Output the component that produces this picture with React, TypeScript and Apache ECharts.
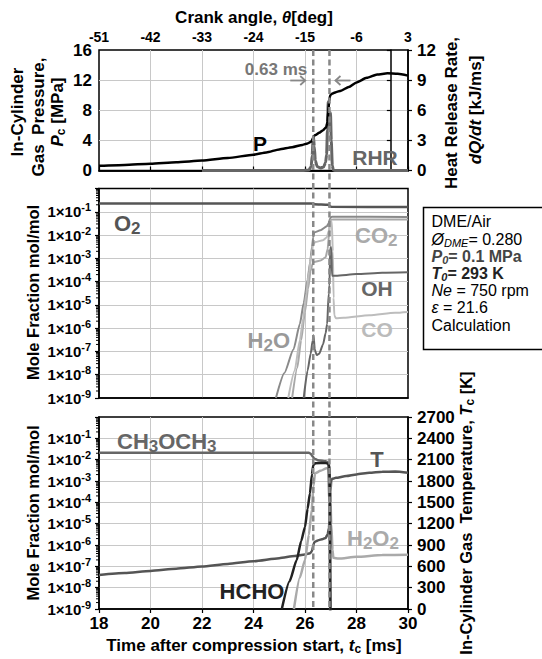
import React, { useEffect, useRef } from "react";
import * as echarts from "echarts";

const FONT = "'Liberation Sans', Arial, Helvetica, sans-serif";

// Axes
const timeRange = [18, 30, 2]; // ms after compression start: min, max, step
const crankRange = [-51, 3, 9]; // crank angle, deg
const pressureRange = [0, 16, 4]; // MPa
const rhrRange = [0, 12, 3]; // kJ/ms
const tempRange = [0, 2700, 300]; // K
const moleRange = [1e-9, 1]; // mol/mol (log)
const minorMultipliers = [2, 3, 4, 5, 6, 7, 8, 9];

// Ignition instants (ms) and the interval between them
const ignitionTimes = [26.32, 26.95];
const ignitionDelayLabel = "0.63 ms";

// In-cylinder pressure, MPa
const pressure: [number, number][] = [
  [18, 0.62], [19, 0.74], [20, 0.9], [21, 1.1], [22, 1.32], [23, 1.65], [24, 2.1],
  [24.5, 2.4], [25, 2.8], [25.5, 3.1], [25.9, 3.4], [26.1, 3.6], [26.25, 3.85],
  [26.3, 4.2], [26.34, 4.55], [26.4, 4.7], [26.55, 5.0], [26.7, 5.35], [26.82, 5.75],
  [26.87, 6.4], [26.9, 7.8], [26.94, 9.2], [26.98, 10.0], [27.05, 10.2], [27.2, 10.4],
  [27.4, 10.6], [27.7, 11.1], [28.0, 11.7], [28.4, 12.3], [28.8, 12.75], [29.2, 12.9],
  [29.6, 12.85], [30, 12.6],
];

// Rate of heat release, kJ/ms
const heatRelease: [number, number][] = [
  [22, 0], [25.9, 0], [26.15, 0.05], [26.24, 0.4], [26.28, 1.5], [26.31, 3.0], [26.33, 3.35],
  [26.36, 2.4], [26.4, 1.0], [26.47, 0.4], [26.6, 0.25], [26.72, 0.35], [26.8, 0.8],
  [26.84, 1.6], [26.87, 4.0], [26.9, 6.85], [26.93, 4.5], [26.96, 4.2], [26.99, 5.75],
  [27.02, 3.0], [27.06, 0.5], [27.1, 0.05], [27.15, 0], [30, 0],
];

// Mole fractions, mol/mol
const o2: [number, number][] = [
  [18, 0.225], [26.25, 0.225], [26.35, 0.21], [26.9, 0.2], [26.97, 0.175], [27.02, 0.163], [30, 0.16],
];
const h2o: [number, number][] = [
  [24.87, 1e-9], [25.2, 1.2e-8], [25.55, 1.2e-7], [25.8, 1.5e-6], [25.95, 1.2e-5], [26.1, 1.2e-4],
  [26.2, 7e-4], [26.27, 3e-3], [26.32, 8e-3], [26.36, 1.3e-2], [26.6, 1.6e-2], [26.85, 2.4e-2],
  [26.92, 3.2e-2], [26.97, 5e-2], [27.02, 6e-2], [27.1, 6.1e-2], [30, 6e-2],
];
const co2: [number, number][] = [
  [25.5, 1e-9], [25.7, 2e-8], [25.85, 3e-7], [26.0, 5e-6], [26.12, 5e-5], [26.22, 3e-4],
  [26.3, 6e-4], [26.36, 7e-4], [26.6, 8e-4], [26.8, 1.1e-3], [26.88, 2.5e-3], [26.93, 1e-2],
  [26.97, 3e-2], [27.0, 4.5e-2], [27.1, 4.7e-2], [30, 4.7e-2],
];
const co: [number, number][] = [
  [25.35, 1e-9], [25.6, 1.5e-8], [25.8, 3e-7], [25.93, 2.6e-6], [26.05, 3e-5], [26.15, 2.5e-4],
  [26.25, 1.5e-3], [26.32, 4e-3], [26.4, 5e-3], [26.7, 6e-3], [26.85, 8e-3], [26.92, 1.5e-2],
  [26.97, 3.2e-2], [27.04, 3.8e-2], [27.08, 2e-3], [27.11, 2e-5], [27.14, 3.5e-6],
  [27.2, 2.7e-6], [27.5, 2.8e-6], [28.5, 3.6e-6], [29.5, 4.6e-6], [30, 5e-6],
];
const oh: [number, number][] = [
  [25.95, 1e-9], [26.1, 1.5e-8], [26.22, 8e-8], [26.3, 3e-7], [26.33, 5e-7], [26.38, 1.2e-7],
  [26.45, 7e-8], [26.55, 8e-8], [26.7, 2e-7], [26.8, 6e-7], [26.86, 1.5e-6], [26.92, 3e-5],
  [26.95, 7e-5], [26.98, 3e-3], [27.02, 3e-3], [27.05, 1.8e-4], [27.2, 1.8e-4], [28, 2.1e-4],
  [29, 2.4e-4], [30, 2.5e-4],
];
const dme: [number, number][] = [
  [18, 2.1e-2], [26.15, 2.1e-2], [26.22, 1.9e-2], [26.3, 1.4e-2], [26.36, 1.1e-2], [26.5, 9.5e-3],
  [26.8, 8.5e-3], [26.9, 7.5e-3], [26.95, 1e-4], [26.97, 1e-9], [26.98, 1e-11],
];
const hcho: [number, number][] = [
  [25.1, 1e-9], [25.4, 2e-8], [25.68, 2e-7], [25.85, 1.5e-6], [26.0, 7e-6], [26.1, 5e-5],
  [26.19, 2.6e-4], [26.27, 2e-3], [26.32, 5.5e-3], [26.4, 6.8e-3], [26.8, 7e-3], [26.9, 6.5e-3],
  [26.95, 5e-3], [26.97, 1e-4], [26.99, 1e-9], [27.0, 1e-11],
];
const h2o2: [number, number][] = [
  [25.57, 1e-9], [25.8, 3e-8], [26.0, 2e-7], [26.15, 3e-6], [26.26, 4.4e-5], [26.33, 6e-4],
  [26.39, 2.3e-3], [26.6, 3e-3], [26.84, 4e-3], [26.92, 4e-3], [26.97, 1e-3], [27.02, 1e-5],
  [27.07, 6e-7], [27.1, 2.5e-7], [27.3, 2.3e-7], [28, 2.8e-7], [29, 3.4e-7], [30, 3.5e-7],
];

// In-cylinder gas temperature, K
const temperature: [number, number][] = [
  [18, 478], [19, 505], [20, 536], [21, 566], [22, 598], [23, 633], [24, 672], [25, 715],
  [25.6, 745], [26.0, 768], [26.2, 785], [26.27, 815], [26.32, 890], [26.36, 940], [26.5, 965],
  [26.7, 985], [26.8, 1000], [26.88, 1050], [26.93, 1140], [26.96, 1300], [26.99, 1650],
  [27.02, 1810], [27.06, 1830], [27.2, 1845], [27.6, 1870], [28, 1893], [28.5, 1915],
  [29, 1930], [29.5, 1932], [30, 1915],
];

// Conditions box
const conditionLines = [
  "DME/Air",
  "{i|Ø}{s|DME}{r|= 0.280}",
  "{bi|P}{bs|0}{b|= 0.1 MPa}",
  "{bi|T}{bs|0}{b|= 293 K}",
  "{i|Ne}{r| = 750 rpm}",
  "{i|ε}{r| = 21.6}",
  "Calculation",
];

const GRID_LINE = { color: "#c8c8c8", width: 1 };
const SPLIT = { show: true, showMinLine: false, showMaxLine: false, lineStyle: GRID_LINE };
const AXIS_LINE = { show: true, lineStyle: { color: "#000", width: 1.5 } };
const TICK = { show: true, length: 4, lineStyle: { color: "#000", width: 1.2 } };
const LABEL = { fontFamily: FONT, fontWeight: "bold" as const, color: "#000" };

const logLabel = {
  ...LABEL,
  margin: 8,
  formatter: (v: number) => {
    const e = Math.round(Math.log10(v));
    return e === 0 ? "" : `{m|1×10}{e|${e}}`;
  },
  rich: {
    m: { fontFamily: FONT, fontWeight: "bold", fontSize: 15, color: "#000" },
    e: { fontFamily: FONT, fontWeight: "bold", fontSize: 11, color: "#000", padding: [0, 0, 9, 0] },
  },
};

function lineSeries(name: string, data: [number, number][], xi: number, yi: number, color: string, width: number, z = 2) {
  return {
    name,
    type: "line",
    xAxisIndex: xi,
    yAxisIndex: yi,
    data,
    showSymbol: false,
    symbol: "none",
    smooth: 0.2,
    smoothMonotone: "x",
    clip: true,
    z,
    lineStyle: { color, width },
    itemStyle: { color },
  };
}

function buildOption() {
  const gridBase = { left: 99, right: 134, show: true, borderColor: "#000", borderWidth: 1.5, backgroundColor: "transparent" };
  const timeAxis = (gridIndex: number, showLabels: boolean) => ({
    gridIndex,
    type: "value",
    min: timeRange[0],
    max: timeRange[1],
    interval: timeRange[2],
    axisLine: AXIS_LINE,
    axisTick: showLabels ? TICK : { show: false },
    axisLabel: showLabels ? { ...LABEL, fontSize: 17, margin: 6 } : { show: false },
    splitLine: SPLIT,
  });
  const logAxis = (gridIndex: number) => ({
    gridIndex,
    type: "log",
    logBase: 10,
    min: moleRange[0],
    max: moleRange[1],
    splitNumber: 9,
    axisLine: AXIS_LINE,
    axisTick: TICK,
    axisLabel: logLabel,
    splitLine: SPLIT,
  });
  return {
    animation: false,
    backgroundColor: "#fff",
    grid: [
      { ...gridBase, top: 50, height: 120.5 },
      { ...gridBase, top: 188.5, height: 209.5 },
      { ...gridBase, top: 417, height: 192 },
    ],
    xAxis: [
      timeAxis(0, false),
      {
        gridIndex: 0,
        type: "value",
        position: "top",
        min: crankRange[0],
        max: crankRange[1],
        interval: crankRange[2],
        axisLine: AXIS_LINE,
        axisTick: TICK,
        axisLabel: { ...LABEL, fontSize: 14, margin: 6 },
        splitLine: { show: false },
      },
      timeAxis(1, false),
      timeAxis(2, true),
    ],
    yAxis: [
      {
        gridIndex: 0,
        type: "value",
        min: pressureRange[0],
        max: pressureRange[1],
        interval: pressureRange[2],
        axisLine: AXIS_LINE,
        axisTick: TICK,
        axisLabel: { ...LABEL, fontSize: 17, margin: 7 },
        splitLine: SPLIT,
      },
      {
        gridIndex: 0,
        type: "value",
        position: "right",
        min: rhrRange[0],
        max: rhrRange[1],
        interval: rhrRange[2],
        axisLine: AXIS_LINE,
        axisTick: TICK,
        axisLabel: { ...LABEL, fontSize: 17, margin: 9 },
        splitLine: { show: false },
      },
      logAxis(1),
      logAxis(2),
      {
        gridIndex: 2,
        type: "value",
        position: "right",
        min: tempRange[0],
        max: tempRange[1],
        interval: tempRange[2],
        axisLine: AXIS_LINE,
        axisTick: TICK,
        axisLabel: { ...LABEL, fontSize: 17, margin: 9, formatter: (v: number) => String(v) },
        splitLine: { show: false },
      },
    ],
    series: [
      lineSeries("RHR", heatRelease, 0, 1, "#666", 3, 2),
      lineSeries("P", pressure, 0, 0, "#000", 2.5, 3),
      lineSeries("O2", o2, 2, 2, "#555", 2.5),
      lineSeries("H2O", h2o, 2, 2, "#8a8a8a", 2),
      lineSeries("CO2", co2, 2, 2, "#a8a8a8", 2),
      lineSeries("CO", co, 2, 2, "#bdbdbd", 2),
      lineSeries("OH", oh, 2, 2, "#666", 2),
      lineSeries("T", temperature, 3, 4, "#555", 2.5),
      lineSeries("H2O2", h2o2, 3, 3, "#aaa", 2.5),
      lineSeries("CH3OCH3", dme, 3, 3, "#666", 2.5),
      lineSeries("HCHO", hcho, 3, 3, "#222", 2.5, 3),
    ],
  };
}

type Rich = Record<string, any>;

function text(x: number, y: number, str: string, o: { size?: number; weight?: string; fill?: string; align?: string; vAlign?: string; rotation?: number; rich?: Rich; style?: string } = {}) {
  const align = o.align || "center";
  const vAlign = o.vAlign || "middle";
  return {
    type: "text",
    x,
    y,
    z: 30,
    rotation: o.rotation || 0,
    style: {
      text: str,
      fontFamily: FONT,
      fontSize: o.size || 17,
      fontWeight: o.weight || "bold",
      fontStyle: o.style || "normal",
      fill: o.fill || "#000",
      align,
      verticalAlign: vAlign,
      textAlign: align,
      textVerticalAlign: vAlign,
      rich: o.rich,
    },
  };
}

const titleRich = (size: number): Rich => ({
  b: { fontFamily: FONT, fontWeight: "bold", fontSize: size },
  i: { fontFamily: FONT, fontWeight: "bold", fontStyle: "italic", fontSize: size },
  s: { fontFamily: FONT, fontWeight: "bold", fontSize: Math.round(size * 0.7), padding: [8, 0, 0, 0] },
});

const speciesRich = (size: number): Rich => ({
  n: { fontFamily: FONT, fontWeight: "bold", fontSize: size },
  s: { fontFamily: FONT, fontWeight: "bold", fontSize: Math.round(size * 0.78), padding: [10, 0, 0, 0] },
});

// Subscripts keep the row height equal to the main text so rows do not crowd
const boxRich: Rich = {
  r: { fontFamily: FONT, fontSize: 16, lineHeight: 15 },
  i: { fontFamily: FONT, fontSize: 16, fontStyle: "italic", lineHeight: 15 },
  s: { fontFamily: FONT, fontSize: 11, fontStyle: "italic", lineHeight: 8, padding: [7, 0, 0, 0] },
  b: { fontFamily: FONT, fontSize: 16, fontWeight: "bold", lineHeight: 15 },
  bi: { fontFamily: FONT, fontSize: 16, fontWeight: "bold", fontStyle: "italic", lineHeight: 15 },
  bs: { fontFamily: FONT, fontSize: 11, fontWeight: "bold", fontStyle: "italic", lineHeight: 8, padding: [7, 0, 0, 0] },
};

function buildGraphics(xa: number, xb: number, minorY: number[]) {
  const up = Math.PI / 2;
  const g: any[] = [];

  // log-spaced minor ticks on the mole-fraction axes
  minorY.forEach((y) => {
    g.push({ type: "line", z: 5, shape: { x1: 96, y1: y, x2: 99, y2: y }, style: { stroke: "#000", lineWidth: 1 } });
  });

  const dash = { stroke: "#888", lineWidth: 2.5, lineDash: [6, 3.5] };
  g.push({ type: "line", z: 25, shape: { x1: xa, y1: 50, x2: xa, y2: 609 }, style: dash });
  g.push({ type: "line", z: 25, shape: { x1: xb, y1: 50, x2: xb, y2: 609 }, style: dash });

  // interval arrows
  const ay = 80.5;
  const arrow = { stroke: "#888", lineWidth: 1.8, fill: "none" };
  g.push({ type: "line", z: 26, shape: { x1: xa - 23, y1: ay, x2: xa - 8, y2: ay }, style: arrow });
  g.push({ type: "polyline", z: 26, shape: { points: [[xa - 13, ay - 4.5], [xa - 8, ay], [xa - 13, ay + 4.5]] }, style: arrow });
  g.push({ type: "line", z: 26, shape: { x1: xb + 21, y1: ay, x2: xb + 6, y2: ay }, style: arrow });
  g.push({ type: "polyline", z: 26, shape: { points: [[xb + 11, ay - 4.5], [xb + 6, ay], [xb + 11, ay + 4.5]] }, style: arrow });
  g.push(text(xa - 6, 69.5, ignitionDelayLabel, { size: 17, fill: "#777", align: "right" }));

  // axis titles
  g.push(text(254, 17, "{b|Crank angle, }{i|θ}{b|[deg]}", { rich: titleRich(17) }));
  g.push(text(254, 645, "{b|Time after compression start, }{i|t}{s|c}{b| [ms]}", { rich: titleRich(17) }));
  g.push(text(17, 112, "In-Cylinder", { rotation: up }));
  g.push(text(38, 117, "Gas  Pressure,", { rotation: up }));
  g.push(text(57, 112, "{i|P}{s|c}{b| [MPa]}", { rotation: up, rich: titleRich(17) }));
  g.push(text(451, 113, "Heat Release Rate,", { rotation: up }));
  g.push(text(475, 110, "{i|dQ/dt}{b| [kJ/ms]}", { rotation: up, rich: titleRich(17) }));
  g.push(text(33, 292.5, "Mole Fraction mol/mol", { rotation: up, size: 16.5 }));
  g.push(text(33, 513, "Mole Fraction mol/mol", { rotation: up, size: 16.5 }));
  g.push(text(466, 513, "{b|In-Cylinder Gas  Temperature, }{i|T}{s|c}{b| [K]}", { rotation: up, rich: titleRich(16.5) }));

  // curve labels
  g.push(text(260, 143.5, "P", { size: 21 }));
  g.push(text(375, 157.5, "RHR", { size: 21, fill: "#666" }));
  g.push(text(114, 223, "{n|O}{s|2}", { align: "left", fill: "#555", rich: speciesRich(22) }));
  g.push(text(355, 235, "{n|CO}{s|2}", { align: "left", fill: "#aaa", rich: speciesRich(22) }));
  g.push(text(377, 288.5, "{n|OH}", { fill: "#666", rich: speciesRich(21) }));
  g.push(text(377, 329, "{n|CO}", { fill: "#bbb", rich: speciesRich(21) }));
  g.push(text(290, 340, "{n|H}{s|2}{n|O}", { align: "right", fill: "#999", rich: speciesRich(22) }));
  g.push(text(117, 441.5, "{n|CH}{s|3}{n|OCH}{s|3}", { align: "left", fill: "#666", rich: speciesRich(22) }));
  g.push(text(377, 459.5, "{n|T}", { fill: "#555", rich: speciesRich(22) }));
  g.push(text(347, 538.5, "{n|H}{s|2}{n|O}{s|2}", { align: "left", fill: "#aaa", rich: speciesRich(22) }));
  g.push(text(252, 591.5, "{n|HCHO}", { fill: "#222", rich: speciesRich(22) }));

  // conditions box
  g.push({ type: "rect", z: 30, shape: { x: 423.5, y: 207.5, width: 130, height: 142 }, style: { fill: "#fff", stroke: "#000", lineWidth: 1.5 } });
  const rowsY = [221.7, 239.0, 256.2, 273.4, 290.6, 307.8, 325];
  const rowsFill = ["#000", "#000", "#444", "#222", "#000", "#000", "#000"];
  conditionLines.forEach((line, k) => {
    const t = text(431.5, rowsY[k], line.includes("{") ? line : `{r|${line}}`, { align: "left", size: 16, weight: "normal", fill: rowsFill[k], rich: boxRich });
    t.z = 31;
    g.push(t);
  });
  return g;
}

export default function App() {
  const ref = useRef<HTMLDivElement>(null);
  useEffect(() => {
    if (!ref.current) return;
    const chart = echarts.init(ref.current, null, { renderer: "svg" });
    chart.setOption(buildOption() as any);
    const xa = chart.convertToPixel({ xAxisIndex: 0 }, ignitionTimes[0]) as number;
    const xb = chart.convertToPixel({ xAxisIndex: 0 }, ignitionTimes[1]) as number;
    const minorY: number[] = [];
    [2, 3].forEach((axisIndex) => {
      for (let e = -9; e < 0; e++) {
        minorMultipliers.forEach((m) => {
          minorY.push(chart.convertToPixel({ yAxisIndex: axisIndex }, m * Math.pow(10, e)) as number);
        });
      }
    });
    chart.setOption({ graphic: buildGraphics(xa, xb, minorY) } as any);
    return () => chart.dispose();
  }, []);
  return (
    <div
      ref={ref}
      style={{ position: "fixed", left: 0, top: 0, width: 542, height: 659, background: "#fff" }}
    />
  );
}
